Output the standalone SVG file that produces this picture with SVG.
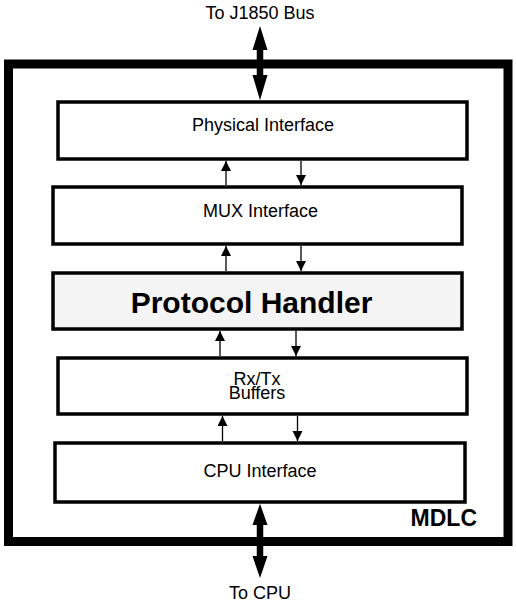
<svg xmlns="http://www.w3.org/2000/svg" width="516" height="602" viewBox="0 0 516 602">
<style>
.box{fill:#fff;stroke:#000;stroke-width:3.5}
.ph{fill:#f4f4f4}
.t{font-family:"Liberation Sans",Arial,sans-serif;font-size:18px;fill:#000;text-anchor:middle}
.b{font-weight:bold}
.sa{stroke:#000;stroke-width:1.3;fill:none;marker-end:url(#ah)}
.big{fill:#000}
</style>
<defs>
<marker id="ah" markerUnits="userSpaceOnUse" markerWidth="10" markerHeight="12" viewBox="0 0 10 12" refX="10" refY="5" orient="auto">
<path d="M0,0 L10,5 L0,10 Z" fill="#000"/>
</marker>
</defs>
<rect id="frame" x="8.5" y="64" width="499.5" height="477.5" fill="none" stroke="#000" stroke-width="9"/>
<text class="t b" x="477" y="526" style="font-size:23px;text-anchor:end">MDLC</text>
<g id="physical"><rect class="box" x="58" y="102" width="409" height="57"/><text class="t" x="263" y="130.5">Physical Interface</text></g>
<g id="mux"><rect class="box" x="53" y="187" width="409" height="57"/><text class="t" x="260.5" y="217">MUX Interface</text></g>
<g id="protocol"><rect class="box ph" x="53" y="273" width="409" height="56"/><text class="t b" x="251.5" y="313" style="font-size:30px">Protocol Handler</text></g>
<g id="buffers"><rect class="box" x="58" y="358" width="409" height="56"/><text class="t" x="257" y="385">Rx/Tx</text><text class="t" x="257" y="399">Buffers</text></g>
<g id="cpu"><rect class="box" x="55" y="443" width="410" height="59"/><text class="t" x="260" y="477">CPU Interface</text></g>
<text class="t" x="260" y="18.5">To J1850 Bus</text>
<text class="t" x="260" y="599">To CPU</text>
<g id="connectors">
<path class="sa" d="M226,185 V161"/>
<path class="sa" d="M301,161 V185"/>
<path class="sa" d="M226,271 V246"/>
<path class="sa" d="M301,246 V271"/>
<path class="sa" d="M220,356 V331"/>
<path class="sa" d="M296,331 V356"/>
<path class="sa" d="M222.5,441 V416"/>
<path class="sa" d="M297.5,416 V441"/>
<g class="big">
<polygon points="260,26 267.5,50 252.5,50"/>
<rect x="256.75" y="49" width="6.5" height="27"/>
<polygon points="252.5,75 267.5,75 260,100.25"/>
<polygon points="260,503.75 267.5,525 252.5,525"/>
<rect x="256.75" y="524" width="6.5" height="33"/>
<polygon points="252.5,556 267.5,556 260,578"/>
</g>
</g>
</svg>
